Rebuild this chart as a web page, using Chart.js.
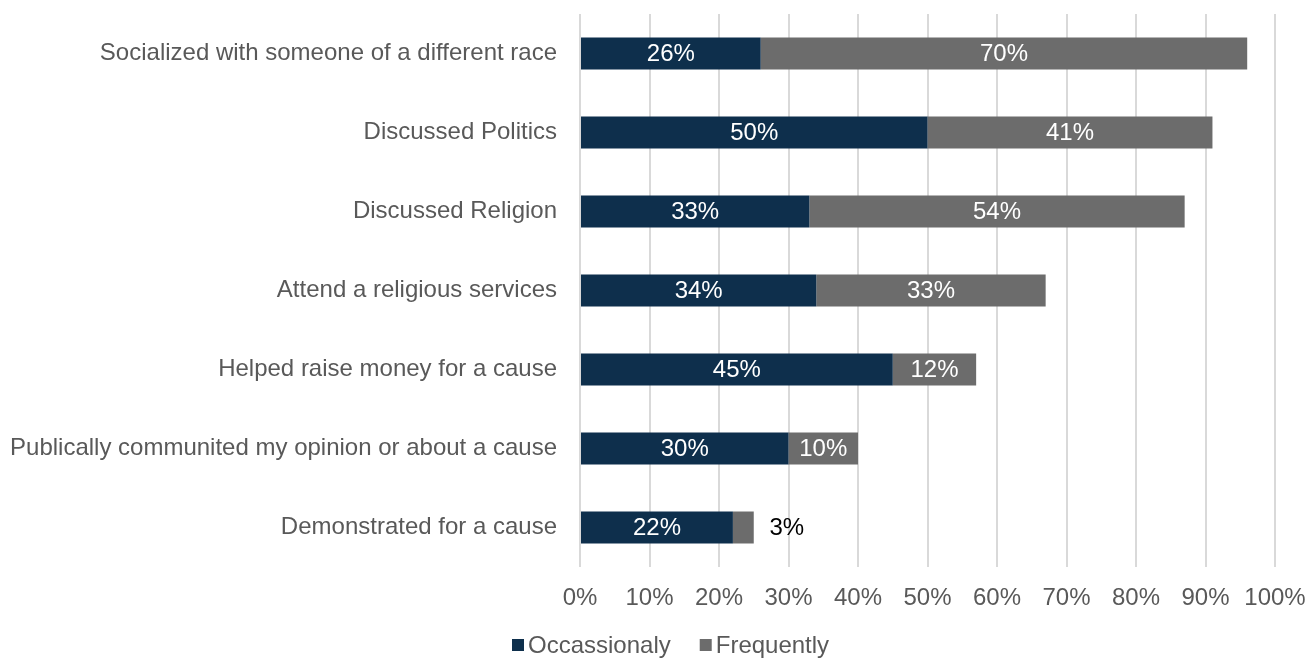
<!DOCTYPE html>
<html>
<head>
<meta charset="utf-8">
<title>Activities</title>
<script src="https://cdn.jsdelivr.net/npm/chart.js@4/dist/chart.umd.min.js"></script>
<style>
  html, body { margin: 0; padding: 0; background: #fff; }
  #wrap { width: 1307px; height: 658px; }
</style>
</head>
<body>
<div id="wrap"><canvas id="chart" width="1307" height="658"></canvas></div>
<script>
// Activity categories and shares (percent)
const categories = [
  'Socialized with someone of a different race',
  'Discussed Politics',
  'Discussed Religion',
  'Attend a religious services',
  'Helped raise money for a cause',
  'Publically communited my opinion or about a cause',
  'Demonstrated for a cause'
];
const occasionally = [26, 50, 33, 34, 45, 30, 22];
const frequently = [70, 41, 54, 33, 12, 10, 3];

const FONT = '"Liberation Sans", Arial, sans-serif';
const TEXT_GREY = '#595959';

// Percent labels on each bar segment; too-narrow segments get the label outside
const barLabels = {
  id: 'barLabels',
  afterDatasetsDraw(chart) {
    const ctx = chart.ctx;
    ctx.save();
    ctx.font = '24px ' + FONT;
    ctx.textBaseline = 'middle';
    ctx.textAlign = 'center';
    chart.data.datasets.forEach((ds, i) => {
      const meta = chart.getDatasetMeta(i);
      meta.data.forEach((bar, j) => {
        const text = ds.data[j] + '%';
        const w = Math.abs(bar.x - bar.base);
        if (w > ctx.measureText(text).width + 6) {
          ctx.fillStyle = '#ffffff';
          ctx.fillText(text, (bar.x + bar.base) / 2, bar.y + 1);
        } else {
          ctx.fillStyle = '#000000';
          ctx.fillText(text, bar.x + 33, bar.y + 1);
        }
      });
    });
    ctx.restore();
  }
};

// Simple legend row under the axis
const bottomLegend = {
  id: 'bottomLegend',
  afterDraw(chart) {
    const ctx = chart.ctx;
    const y = 645;
    let x = 512;
    ctx.save();
    ctx.font = '24px ' + FONT;
    ctx.textBaseline = 'middle';
    ctx.textAlign = 'left';
    chart.data.datasets.forEach(ds => {
      ctx.fillStyle = ds.backgroundColor;
      ctx.fillRect(x, y - 6, 12, 12);
      ctx.fillStyle = TEXT_GREY;
      ctx.fillText(ds.label, x + 16, y + 1);
      x += 16 + ctx.measureText(ds.label).width + 29;
    });
    ctx.restore();
  }
};

new Chart(document.getElementById('chart'), {
  type: 'bar',
  data: {
    labels: categories,
    datasets: [
      {
        label: 'Occassionaly',
        data: occasionally,
        backgroundColor: '#0e2f4c',
        barPercentage: 0.405,
        categoryPercentage: 1
      },
      {
        label: 'Frequently',
        data: frequently,
        backgroundColor: '#6c6c6c',
        barPercentage: 0.405,
        categoryPercentage: 1
      }
    ]
  },
  options: {
    indexAxis: 'y',
    responsive: false,
    animation: false,
    layout: {
      padding: { top: 14, right: 32, bottom: 0, left: 0 }
    },
    plugins: {
      legend: { display: false },
      tooltip: { enabled: false }
    },
    scales: {
      x: {
        stacked: true,
        min: 0,
        max: 100,
        ticks: {
          stepSize: 10,
          callback: v => v + '%',
          font: { family: FONT, size: 24 },
          color: TEXT_GREY,
          padding: 17
        },
        grid: { color: '#d9d9d9', lineWidth: 2, drawTicks: false },
        border: { display: false },
        afterFit(scale) {
          scale.height = 91;
          scale.paddingLeft = 0;
          scale.paddingRight = 0;
        }
      },
      y: {
        stacked: true,
        ticks: {
          font: { family: FONT, size: 24 },
          color: TEXT_GREY,
          padding: 23
        },
        grid: { display: false, drawTicks: false },
        border: { display: false },
        afterFit(scale) {
          scale.width = 580;
          scale.paddingTop = 0;
          scale.paddingBottom = 0;
        }
      }
    }
  },
  plugins: [barLabels, bottomLegend]
});
</script>
</body>
</html>
